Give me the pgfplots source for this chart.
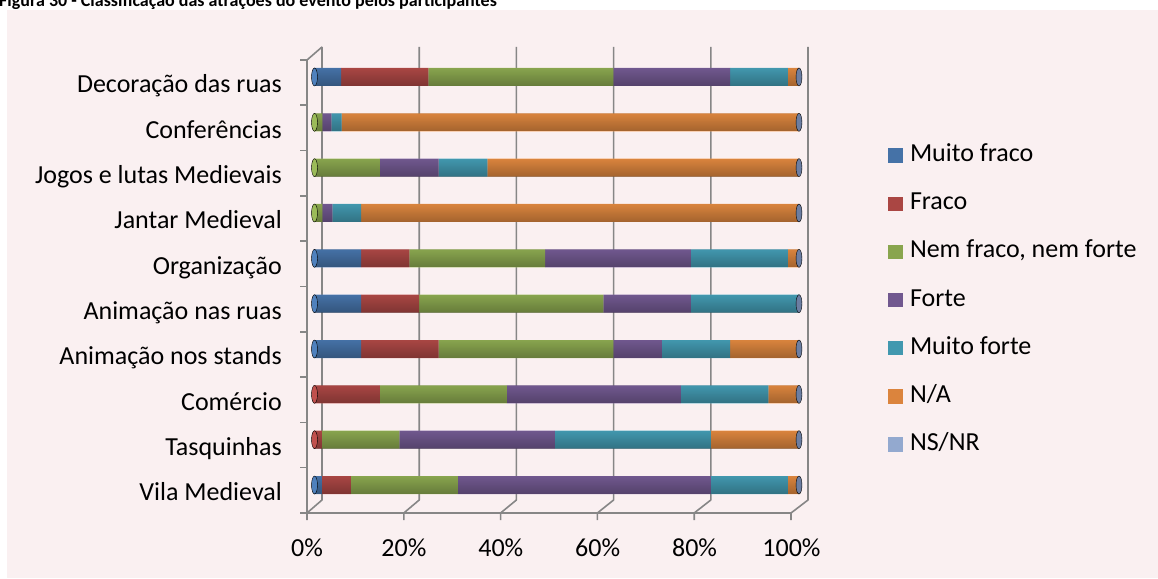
\documentclass[border=0pt]{standalone}
\usepackage{pgfplots}
\pgfplotsset{compat=1.18}
\usepackage{pgfplotstable}
\usetikzlibrary{fadings}
\usepackage{fontspec}
\setmainfont{Carlito}
\definecolor{bgpink}{RGB}{250,240,241}
\definecolor{gridc}{RGB}{134,134,134}
\definecolor{cA}{RGB}{79,129,189}
\definecolor{cB}{RGB}{192,80,77}
\definecolor{cC}{RGB}{155,187,89}
\definecolor{cD}{RGB}{128,100,162}
\definecolor{cE}{RGB}{75,172,198}
\definecolor{cF}{RGB}{247,150,70}
\definecolor{lA}{RGB}{69,114,167}
\definecolor{lB}{RGB}{170,70,67}
\definecolor{lC}{RGB}{137,165,78}
\definecolor{lD}{RGB}{113,88,143}
\definecolor{lE}{RGB}{65,152,175}
\definecolor{lF}{RGB}{219,132,61}
\definecolor{lG}{RGB}{147,169,207}
\definecolor{capc}{RGB}{108,126,162}

\tikzfading[name=cyldark, top color=transparent!88, middle color=transparent!100, bottom color=transparent!66]
\tikzfading[name=cyllight, top color=transparent!100, middle color=transparent!72, bottom color=transparent!100]

% cat: 0 Vila Medieval ... 9 Decoracao das ruas
\pgfplotstableread{
cat mf   f    nf   fo   mfo  na
0   1.5  6.0  22.1 52.2 15.9 2.3
1   0    1.5  16.0 32.1 32.2 18.2
2   0    13.5 26.2 35.9 18.1 6.3
3   9.6  16.0 36.1 10.0 14.1 14.2
4   9.6  12.0 38.0 18.1 22.3 0
5   9.6  10.0 28.0 30.1 20.0 2.3
6   0    0    1.6  2.1  5.9  90.4
7   0    0    13.5 12.1 10.1 64.3
8   0    0    1.6  1.9  2.1  94.4
9   5.5  18.0 38.2 24.1 11.9 2.3
}\data

\pgfplotsset{
  cyl/.style={forget plot, draw=none, fill=#1},
  geom/.style={at={(314.5pt,70.3pt)}, anchor=south west, scale only axis,
    width=484.5pt, height=453.4pt, xmin=0, xmax=100, ymin=-0.5, ymax=9.5, clip=false},
}

\begin{document}
\begin{tikzpicture}[x=1pt,y=1pt]
\fill[white] (0,0) rectangle (1158,578);
\fill[bgpink] (7,0) rectangle (1158,568);
\node[anchor=base west, inner sep=0pt, font=\bfseries\fontsize{18}{21}\selectfont] at (-1,571.7) {Figura 30 - Classificação das atrações do evento pelos participantes};
\begin{scope}[draw=gridc, line width=1.6pt, line join=round]
  \foreach \k in {0,...,5} {
    \pgfmathsetmacro\xb{322+97.2*\k}
    \pgfmathsetmacro\xf{307+96.8*\k}
    \draw (\xb,531) -- (\xb,78) -- (\xf,65) -- (\xf,58);
  }
  \draw (307,65) -- (791,65);
  \draw (322,531) -- (307,518) -- (307,65);
  \foreach \j in {0,...,10} {
    \pgfmathsetmacro\yy{518-45.3*\j}
    \draw (300,\yy) -- (307,\yy);
  }
\end{scope}

\begin{axis}[geom,
  xbar stacked, bar width=18pt,
  axis line style={draw=none}, tick style={draw=none}, major tick length=0pt,
  xtick={0,20,40,60,80,100},
  xticklabels={0\%,20\%,40\%,60\%,80\%,100\%},
  ytick={0,...,9},
  yticklabels={Vila Medieval,Tasquinhas,Comércio,Animação nos stands,Animação nas ruas,Organização,Jantar Medieval,Jogos e lutas Medievais,Conferências,Decoração das ruas},
  ticklabel style={font=\fontsize{26}{31}\selectfont, inner sep=0pt},
  xticklabel style={anchor=base, xshift=-7.5pt, yshift=-48.8pt},
  yticklabel style={anchor=base east, xshift=-32.5pt, yshift=-15.8pt},
]
\addplot[cyl=cA] table[x=mf, y=cat] {\data};
\addplot[cyl=cB] table[x=f, y=cat] {\data};
\addplot[cyl=cC] table[x=nf, y=cat] {\data};
\addplot[cyl=cD] table[x=fo, y=cat] {\data};
\addplot[cyl=cE] table[x=mfo, y=cat] {\data};
\addplot[cyl=cF] table[x=na, y=cat] {\data};
\end{axis}

\begin{axis}[geom, hide axis,
  legend image code/.code={\fill[#1] (0pt,-7.2pt) rectangle (14.4pt,7.2pt);},
  legend cell align=left,
  legend style={at={(1.1843,0.8008)}, anchor=north west, draw=none, fill=none,
    inner sep=0pt, outer sep=0pt, font=\fontsize{26}{31}\selectfont,
    nodes={inner sep=0pt, text height=17pt, text depth=5pt},
    row sep=26.17pt, /tikz/every odd column/.append style={column sep=7.3pt}},
]
\pgfplotsinvokeforeach{0,...,9}{
  \addplot[forget plot, xbar, bar width=18pt, bar shift=0pt, draw=none, fill=black, path fading=cyldark] coordinates {(100,#1)};
  \addplot[forget plot, xbar, bar width=18pt, bar shift=0pt, draw=none, fill=white, path fading=cyllight] coordinates {(100,#1)};
}
\addplot[forget plot, only marks, mark=*, mark size=9pt, mark options={xscale=0.33, draw=none, fill=capc}]
  coordinates {(100,0) (100,1) (100,2) (100,3) (100,4) (100,5) (100,6) (100,7) (100,8) (100,9)};
\addplot[forget plot, only marks, mark=*, mark size=9pt, mark options={xscale=0.33, draw=none, fill=cA}]
  coordinates {(0,0) (0,3) (0,4) (0,5) (0,9)};
\addplot[forget plot, only marks, mark=*, mark size=9pt, mark options={xscale=0.33, draw=none, fill=cB}]
  coordinates {(0,1) (0,2)};
\addplot[forget plot, only marks, mark=*, mark size=9pt, mark options={xscale=0.33, draw=none, fill=cC}]
  coordinates {(0,6) (0,7) (0,8)};
\addlegendimage{fill=lA, draw=none}\addlegendentry{Muito fraco}
\addlegendimage{fill=lB, draw=none}\addlegendentry{Fraco}
\addlegendimage{fill=lC, draw=none}\addlegendentry{Nem fraco, nem forte}
\addlegendimage{fill=lD, draw=none}\addlegendentry{Forte}
\addlegendimage{fill=lE, draw=none}\addlegendentry{Muito forte}
\addlegendimage{fill=lF, draw=none}\addlegendentry{N/A}
\addlegendimage{fill=lG, draw=none}\addlegendentry{NS/NR}
\end{axis}
\pgfresetboundingbox
\path[use as bounding box] (0,0) rectangle (1158,578);
\end{tikzpicture}
\end{document}
